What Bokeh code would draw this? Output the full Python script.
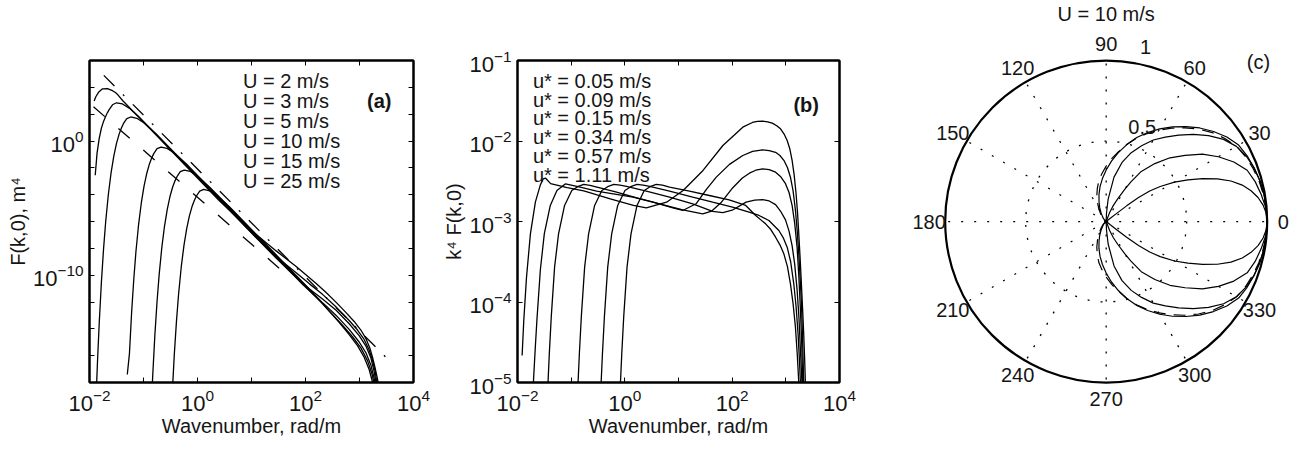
import numpy as np
from bokeh.plotting import figure
from bokeh.layouts import row
from bokeh.models import Range1d, FixedTicker, LogAxis, CustomJSTickFormatter
from bokeh.embed import file_html
from bokeh.resources import INLINE
from bokeh.core.properties import value

FONT = "Liberation Sans"
FS = "20px"
TICK_FS = "22px"
INK = "#151515"
LW = 1.3

# ---------------- Panel (a): log10 k [rad/m] and log10 F(k,0) [m^4] ----------------
a_labels = ["U = 2 m/s", "U = 3 m/s", "U = 5 m/s", "U = 10 m/s", "U = 15 m/s", "U = 25 m/s"]

a_U2_logk = [-0.52, -0.50, -0.47, -0.43, -0.39, -0.35, -0.30, -0.25, -0.20, -0.15, -0.10, -0.057, -0.02, 0.041, 0.115, 0.227, 0.362, 0.585, 0.833, 1.204, 1.574, 1.944, 2.253, 2.438, 2.623, 2.809, 2.963, 3.086, 3.179, 3.241, 3.26]
a_U2_logF = [-23.68, -21.65, -18.99, -15.94, -13.46, -11.40, -9.35, -7.76, -6.53, -5.58, -4.87, -4.41, -4.10, -3.73, -3.61, -3.71, -4.06, -4.88, -5.91, -7.44, -8.97, -10.51, -11.81, -12.68, -13.52, -14.43, -15.25, -16.12, -17.03, -17.96, -18.44]

a_U3_logk = [-0.86, -0.83, -0.79, -0.75, -0.71, -0.66, -0.61, -0.56, -0.51, -0.46, -0.417, -0.38, -0.319, -0.245, -0.133, 0.002, 0.225, 0.463, 0.833, 1.265, 1.636, 2.006, 2.315, 2.500, 2.685, 2.870, 3.025, 3.148, 3.228, 3.272, 3.29]
a_U3_logF = [-20.21, -17.55, -14.50, -12.02, -9.96, -7.91, -6.32, -5.09, -4.14, -3.43, -2.97, -2.66, -2.29, -2.17, -2.27, -2.62, -3.44, -4.42, -5.96, -7.76, -9.30, -10.84, -12.14, -12.93, -13.73, -14.59, -15.42, -16.37, -17.31, -18.09, -18.56]

a_U5_logk = [-1.30, -1.26, -1.22, -1.18, -1.14, -1.09, -1.04, -0.99, -0.94, -0.89, -0.847, -0.81, -0.749, -0.675, -0.563, -0.428, -0.205, 0.031, 0.401, 0.833, 1.265, 1.636, 1.944, 2.191, 2.377, 2.568, 2.809, 2.994, 3.117, 3.210, 3.272, 3.30, 3.32]
a_U5_logF = [-17.4, -15.83, -12.78, -10.30, -8.24, -6.19, -4.60, -3.37, -2.42, -1.71, -1.25, -0.94, -0.57, -0.45, -0.55, -0.90, -1.72, -2.69, -4.23, -6.03, -7.84, -9.40, -10.68, -11.61, -12.27, -13.00, -14.04, -14.98, -15.77, -16.69, -17.69, -18.20, -18.68]

a_U10_logk = [-1.89, -1.87, -1.85, -1.82, -1.78, -1.74, -1.70, -1.65, -1.60, -1.55, -1.50, -1.45, -1.407, -1.37, -1.309, -1.235, -1.123, -0.988, -0.765, -0.463, -0.154, 0.222, 0.648, 1.080, 1.451, 1.759, 2.068, 2.315, 2.568, 2.809, 2.994, 3.117, 3.210, 3.272, 3.315, 3.33]
a_U10_logF = [-20.5, -18.28, -16.25, -13.59, -10.54, -8.06, -6.00, -3.95, -2.36, -1.13, -0.18, 0.53, 0.99, 1.31, 1.67, 1.79, 1.69, 1.34, 0.52, -0.73, -2.02, -3.59, -5.37, -7.18, -8.71, -9.92, -11.01, -11.78, -12.62, -13.62, -14.51, -15.27, -16.16, -17.19, -18.26, -18.72]

a_U15_logk = [-1.894, -1.86, -1.82, -1.78, -1.74, -1.70, -1.667, -1.636, -1.574, -1.50, -1.389, -1.265, -1.105, -0.833, -0.525, -0.216, 0.154, 0.525, 0.895, 1.080, 1.327, 1.574, 1.821, 2.068, 2.315, 2.568, 2.809, 2.963, 3.086, 3.179, 3.241, 3.290, 3.333, 3.35]
a_U15_logF = [-2.55, -0.90, 0.20, 0.95, 1.46, 1.85, 2.12, 2.34, 2.70, 2.85, 2.76, 2.45, 1.89, 0.76, -0.52, -1.79, -3.31, -4.86, -6.41, -7.18, -8.13, -9.00, -9.81, -10.63, -11.43, -12.38, -13.38, -14.09, -14.79, -15.58, -16.36, -17.16, -18.33, -18.80]

a_U25_logk = [-1.914, -1.883, -1.833, -1.759, -1.667, -1.574, -1.52, -1.475, -1.383, -1.074, -0.765, -0.272, 0.16, 0.40, 0.778, 1.086, 1.457, 1.827, 2.198, 2.377, 2.568, 2.747, 2.901, 3.025, 3.117, 3.191, 3.241, 3.290, 3.333, 3.364, 3.38]
a_U25_logF = [2.99, 3.30, 3.63, 3.89, 3.91, 3.75, 3.61, 3.44, 3.00, 1.72, 0.44, -1.63, -3.44, -4.43, -5.87, -6.96, -8.19, -9.36, -10.62, -11.28, -12.03, -12.77, -13.45, -14.09, -14.71, -15.42, -16.12, -16.93, -17.73, -18.46, -18.92]

# reference asymptotes (dash-dot upper, dashed lower)
a_ref1_logk = [-1.735, 3.48]
a_ref1_logF = [4.89, -16.08]
a_ref2_logk = [-1.926, 1.76]
a_ref2_logF = [2.55, -10.35]

# ---------------- Panel (b): log10 k and log10 k^4 F(k,0) ----------------
b_labels = ["u* = 0.05 m/s", "u* = 0.09 m/s", "u* = 0.15 m/s", "u* = 0.34 m/s", "u* = 0.57 m/s", "u* = 1.11 m/s"]

b_u005_logk = [-0.15, -0.10, -0.057, -0.02, 0.041, 0.115, 0.227, 0.362, 0.47, 0.585, 0.70, 0.833, 1.204, 1.574, 1.944, 2.253, 2.438, 2.623, 2.72, 2.809, 2.89, 2.963, 3.03, 3.086, 3.135, 3.179, 3.213, 3.241, 3.26]
b_u005_logB = [-6.18, -5.27, -4.64, -4.175, -3.567, -3.153, -2.801, -2.615, -2.568, -2.54, -2.548, -2.573, -2.623, -2.677, -2.731, -2.801, -2.925, -3.029, -3.10, -3.195, -3.29, -3.402, -3.56, -3.774, -4.02, -4.313, -4.65, -5.0, -5.4]

b_u009_logk = [-0.51, -0.46, -0.417, -0.38, -0.319, -0.245, -0.133, 0.002, 0.11, 0.225, 0.34, 0.463, 0.833, 1.265, 1.636, 2.006, 2.315, 2.500, 2.685, 2.870, 2.95, 3.025, 3.09, 3.148, 3.19, 3.228, 3.252, 3.272, 3.29]
b_u009_logB = [-6.18, -5.27, -4.64, -4.175, -3.567, -3.153, -2.801, -2.615, -2.568, -2.54, -2.548, -2.565, -2.623, -2.698, -2.76, -2.82, -2.884, -2.925, -2.988, -3.112, -3.2, -3.319, -3.5, -3.774, -4.05, -4.395, -4.7, -5.0, -5.4]

b_u015_logk = [-0.94, -0.89, -0.847, -0.81, -0.749, -0.675, -0.563, -0.428, -0.32, -0.205, -0.09, 0.031, 0.401, 0.833, 1.265, 1.636, 1.827, 2.0, 2.259, 2.42, 2.568, 2.69, 2.809, 2.90, 2.994, 3.06, 3.117, 3.165, 3.210, 3.245, 3.272, 3.30, 3.32]
b_u015_logB = [-6.18, -5.27, -4.64, -4.175, -3.567, -3.153, -2.801, -2.615, -2.568, -2.54, -2.548, -2.565, -2.623, -2.698, -2.781, -2.875, -2.89, -2.86, -2.76, -2.735, -2.727, -2.745, -2.79, -2.87, -2.98, -3.12, -3.30, -3.53, -3.85, -4.2, -4.6, -5.0, -5.4]

b_u034_logk = [-1.50, -1.45, -1.407, -1.37, -1.309, -1.235, -1.123, -0.988, -0.88, -0.765, -0.65, -0.463, -0.154, 0.222, 0.648, 1.080, 1.451, 1.62, 1.80, 2.012, 2.19, 2.321, 2.44, 2.568, 2.69, 2.809, 2.90, 2.994, 3.06, 3.117, 3.165, 3.210, 3.242, 3.272, 3.295, 3.315, 3.33]
b_u034_logB = [-6.18, -5.27, -4.64, -4.175, -3.567, -3.153, -2.801, -2.615, -2.568, -2.54, -2.55, -2.582, -2.636, -2.706, -2.781, -2.855, -2.905, -2.87, -2.76, -2.58, -2.46, -2.40, -2.363, -2.346, -2.355, -2.387, -2.44, -2.53, -2.64, -2.80, -3.02, -3.32, -3.68, -4.10, -4.5, -5.0, -5.4]

b_u057_logk = [-1.74, -1.70, -1.667, -1.636, -1.574, -1.50, -1.389, -1.265, -1.105, -0.833, -0.525, -0.216, 0.154, 0.525, 0.895, 1.080, 1.327, 1.52, 1.704, 1.95, 2.198, 2.38, 2.568, 2.69, 2.809, 2.89, 2.963, 3.03, 3.086, 3.135, 3.179, 3.21, 3.241, 3.266, 3.290, 3.312, 3.333, 3.35]
b_u057_logB = [-5.5, -4.95, -4.55, -4.2, -3.6, -3.15, -2.80, -2.615, -2.532, -2.573, -2.623, -2.656, -2.698, -2.76, -2.83, -2.863, -2.78, -2.60, -2.449, -2.29, -2.18, -2.13, -2.11, -2.12, -2.14, -2.18, -2.24, -2.33, -2.45, -2.62, -2.86, -3.1, -3.40, -3.70, -4.0, -4.45, -5.0, -5.4]

b_u111_logk = [-1.914, -1.883, -1.833, -1.759, -1.667, -1.574, -1.52, -1.475, -1.383, -1.074, -0.765, -0.272, 0.16, 0.40, 0.778, 1.086, 1.457, 1.827, 2.198, 2.377, 2.47, 2.568, 2.66, 2.747, 2.83, 2.901, 2.965, 3.025, 3.075, 3.117, 3.155, 3.191, 3.218, 3.241, 3.266, 3.290, 3.312, 3.333, 3.35, 3.364, 3.38]
b_u111_logB = [-4.665, -4.23, -3.70, -3.15, -2.76, -2.545, -2.47, -2.462, -2.53, -2.58, -2.62, -2.72, -2.80, -2.83, -2.76, -2.615, -2.366, -2.056, -1.828, -1.77, -1.757, -1.754, -1.762, -1.778, -1.81, -1.849, -1.91, -1.994, -2.10, -2.24, -2.42, -2.656, -2.89, -3.153, -3.45, -3.774, -4.08, -4.395, -4.7, -5.0, -5.4]

# ---------------- Panel (c): normalised directional spreading, U = 10 m/s ----------------
c_s1_theta = [0, 5, 10, 15, 20, 25, 30, 35, 40, 45, 50, 55, 60, 65, 70, 75, 80, 85, 90, 95, 100, 105, 110, 115, 120, 127, 135, 142, 150]
c_s1_r = [1.0, 0.999, 0.995, 0.988, 0.978, 0.966, 0.950, 0.915, 0.870, 0.822, 0.770, 0.718, 0.665, 0.610, 0.555, 0.495, 0.435, 0.377, 0.320, 0.268, 0.220, 0.173, 0.130, 0.095, 0.065, 0.038, 0.020, 0.008, 0.0]
c_dash_theta = [0, 5, 10, 15, 20, 25, 30, 35, 40, 45, 50, 55, 60, 65, 70, 75, 80, 85, 90, 95, 100, 105, 110, 115, 120, 127, 135, 142, 150]
c_dash_r = [1.0, 0.998, 0.990, 0.982, 0.970, 0.955, 0.935, 0.900, 0.860, 0.812, 0.760, 0.708, 0.655, 0.603, 0.550, 0.495, 0.440, 0.392, 0.345, 0.300, 0.260, 0.213, 0.170, 0.128, 0.090, 0.055, 0.030, 0.012, 0.0]
c_s2_theta = [0, 5, 10, 15, 20, 25, 30, 35, 40, 45, 50, 55, 60, 65, 70, 75, 80, 85, 88, 90]
c_s2_r = [1.0, 0.998, 0.994, 0.987, 0.977, 0.960, 0.934, 0.890, 0.830, 0.765, 0.700, 0.640, 0.585, 0.520, 0.455, 0.380, 0.280, 0.140, 0.050, 0.0]
c_s3_theta = [0, 5, 10, 15, 20, 25, 30, 35, 40, 45, 50, 55, 58, 60, 63, 66, 69, 72]
c_s3_r = [1.0, 0.995, 0.977, 0.958, 0.932, 0.875, 0.805, 0.730, 0.640, 0.560, 0.470, 0.380, 0.290, 0.230, 0.160, 0.110, 0.060, 0.0]
c_s4_theta = [0, 3, 6, 9, 12, 15, 18, 21, 24, 27, 30, 33, 35, 36.5, 37.5, 37.8, 38.3, 39]
c_s4_r = [1.0, 0.995, 0.980, 0.955, 0.920, 0.875, 0.815, 0.740, 0.655, 0.570, 0.490, 0.400, 0.330, 0.250, 0.160, 0.080, 0.030, 0.0]

c_angle_ticks = [0, 30, 60, 90, 120, 150, 180, 210, 240, 270, 300, 330]
c_radial_ticks = [0.5, 1.0]
c_radial_labels = ["0.5", "1"]


def pw(a):
    return 10.0 ** np.asarray(a, dtype=float)


def style_axis(ax):
    ax.axis_line_width = 2
    ax.axis_line_color = "black"
    ax.major_tick_in = 5
    ax.major_tick_out = 0
    ax.minor_tick_in = 5
    ax.minor_tick_out = 0
    ax.major_tick_line_color = "black"
    ax.minor_tick_line_color = "black"
    ax.major_label_text_font = FONT
    ax.major_label_text_font_size = TICK_FS
    ax.major_label_text_color = INK
    ax.axis_label_text_font = FONT
    ax.axis_label_text_font_size = FS
    ax.axis_label_text_font_style = "normal"
    ax.axis_label_text_color = INK


def log_panel(width, bl, br, xr, yr, xt, xm, yt, ym, xlabel, ylabel):
    p = figure(width=width, height=449, x_axis_type="log", y_axis_type="log",
               x_range=Range1d(*xr), y_range=Range1d(*yr),
               toolbar_location=None, output_backend="svg",
               min_border_left=bl, min_border_right=br, min_border_top=60, min_border_bottom=67)
    p.grid.visible = False
    p.outline_line_color = "black"
    p.outline_line_width = 2
    p.xaxis.ticker = FixedTicker(ticks=xt, minor_ticks=xm)
    p.yaxis.ticker = FixedTicker(ticks=yt, minor_ticks=ym)
    p.xaxis.axis_label = xlabel
    p.yaxis.axis_label = ylabel
    for ax in list(p.xaxis) + list(p.yaxis):
        style_axis(ax)
    p.xaxis.major_label_standoff = 6
    p.yaxis.major_label_standoff = 6
    p.xaxis.axis_label_standoff = 1
    p.yaxis.axis_label_standoff = 1
    top = LogAxis(ticker=FixedTicker(ticks=xt, minor_ticks=xm),
                  formatter=CustomJSTickFormatter(code="return ''"))
    right = LogAxis(ticker=FixedTicker(ticks=yt, minor_ticks=ym),
                    formatter=CustomJSTickFormatter(code="return ''"))
    for ax in (top, right):
        style_axis(ax)
        ax.major_label_standoff = 0
    p.add_layout(top, "above")
    p.add_layout(right, "right")
    return p


x_ticks = [1e-2, 1e0, 1e2, 1e4]
x_minor = [1e-1, 1e1, 1e3]

# ---- (a)
pa = log_panel(430, 89, 17, (1e-2, 1e4), (1e-18, 1e6), x_ticks, x_minor,
               [1e-10, 1e0], [10.0 ** e for e in range(-18, 7, 2) if e not in (-10, 0)],
               "Wavenumber, rad/m", "F(k,0), m\u2074")
for lk, lf in [(a_U2_logk, a_U2_logF), (a_U3_logk, a_U3_logF), (a_U5_logk, a_U5_logF),
               (a_U10_logk, a_U10_logF), (a_U15_logk, a_U15_logF), (a_U25_logk, a_U25_logF)]:
    pa.line(pw(lk), pw(lf), line_color="black", line_width=LW)
pa.line(pw(a_ref1_logk), pw(a_ref1_logF), line_color="black", line_width=LW, line_dash="15 12 2 12")
pa.line(pw(a_ref2_logk), pw(a_ref2_logF), line_color="black", line_width=LW, line_dash="15 18")
pa.text(x=[10 ** 0.841] * 6, y=pw([4.497, 3.008, 1.519, 0.030, -1.459, -2.948]), text=a_labels,
        text_font=value(FONT), text_font_size=value("20px"), text_color=INK,
        text_align="left", text_baseline="middle")
pa.text(x=[10 ** 3.365], y=[10 ** 2.956], text=["(a)"], text_font=value(FONT),
        text_font_size=value("20px"), text_font_style="bold", text_color=INK,
        text_align="center", text_baseline="middle")

# ---- (b)
pb = log_panel(430, 87, 21, (1e-2, 1e4), (1e-5, 1e-1), x_ticks, x_minor,
               [1e-5, 1e-4, 1e-3, 1e-2, 1e-1], [],
               "Wavenumber, rad/m", "k\u2074 F(k,0)")
for lk, lb in [(b_u005_logk, b_u005_logB), (b_u009_logk, b_u009_logB), (b_u015_logk, b_u015_logB),
               (b_u034_logk, b_u034_logB), (b_u057_logk, b_u057_logB), (b_u111_logk, b_u111_logB)]:
    pb.line(pw(lk), pw(lb), line_color="black", line_width=LW)
pb.text(x=[10 ** -1.713] * 6, y=pw([-1.252, -1.486, -1.719, -1.953, -2.186, -2.420]), text=b_labels,
        text_font=value(FONT), text_font_size=value("20px"), text_color=INK,
        text_align="left", text_baseline="middle")
pb.text(x=[10 ** 3.38], y=[10 ** -1.547], text=["(b)"], text_font=value(FONT),
        text_font_size=value("20px"), text_font_style="bold", text_color=INK,
        text_align="center", text_baseline="middle")

# ---- (c) polar
pc = figure(width=445, height=449, x_range=Range1d(-1.526, 1.238), y_range=Range1d(-1.416, 1.373),
            x_axis_type=None, y_axis_type=None, toolbar_location=None, output_backend="svg",
            min_border=0, outline_line_color=None)
try:
    pc.frame_align = False
except Exception:
    pass
pc.grid.visible = False
ang = np.deg2rad(c_angle_ticks)
pc.segment(x0=0, y0=0, x1=np.cos(ang), y1=np.sin(ang), line_color="black",
           line_width=1.3, line_dash="2 11")
pc.circle(x=[0], y=[0], radius=c_radial_ticks[0], fill_color=None, line_color="black",
          line_width=1.3, line_dash="2 11")
pc.circle(x=[0], y=[0], radius=c_radial_ticks[1], fill_color=None, line_color="black", line_width=2.2)


def lobe(theta, r):
    th = [-t for t in theta[::-1]] + list(theta[1:])
    rr = list(r[::-1]) + list(r[1:])
    t = np.deg2rad(th)
    rr = np.asarray(rr)
    return rr * np.cos(t), rr * np.sin(t)


for th, rr, dash in [(c_s1_theta, c_s1_r, "solid"), (c_s2_theta, c_s2_r, "solid"),
                     (c_s3_theta, c_s3_r, "solid"), (c_s4_theta, c_s4_r, "solid"),
                     (c_dash_theta, c_dash_r, "12 8")]:
    xx, yy = lobe(th, rr)
    pc.line(xx, yy, line_color="black", line_width=1.2, line_dash=dash)

pc.text(x=1.1 * np.cos(ang), y=1.1 * np.sin(ang), text=[str(a) for a in c_angle_ticks],
        text_font=value(FONT), text_font_size=value("20px"), text_color=INK,
        text_align="center", text_baseline="middle")
pc.text(x=[0.224, 0.244], y=[0.586, 1.083], text=c_radial_labels,
        text_font=value(FONT), text_font_size=value("20px"), text_color=INK,
        text_align="center", text_baseline="middle")
pc.text(x=[0.0], y=[1.29], text=["U = 10 m/s"], text_font=value(FONT),
        text_font_size=value("20px"), text_color=INK, text_align="center", text_baseline="middle")
pc.text(x=[0.946], y=[0.988], text=["(c)"], text_font=value(FONT),
        text_font_size=value("20px"), text_color=INK, text_align="center", text_baseline="middle")

layout = row(pa, pb, pc)
open("out.html", "w").write(file_html(layout, INLINE))
